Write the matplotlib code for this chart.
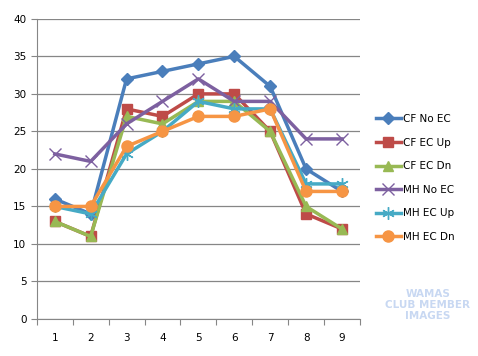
import numpy as np
import matplotlib
matplotlib.use("Agg")
import matplotlib.pyplot as plt

x = [1, 2, 3, 4, 5, 6, 7, 8, 9]
cf_no_ec = [16, 14, 32, 33, 34, 35, 31, 20, 17]
cf_ec_up = [13, 11, 28, 27, 30, 30, 25, 14, 12]
cf_ec_dn = [13, 11, 27, 26, 29, 29, 25, 15, 12]
mh_no_ec = [22, 21, 26, 29, 32, 29, 29, 24, 24]
mh_ec_up = [15, 14, 22, 25, 29, 28, 28, 18, 18]
mh_ec_dn = [15, 15, 23, 25, 27, 27, 28, 17, 17]

series = [
    ("CF No EC", cf_no_ec, "#4A7EBB", "D", 6),
    ("CF EC Up", cf_ec_up, "#BE4B48", "s", 7),
    ("CF EC Dn", cf_ec_dn, "#98B954", "^", 7),
    ("MH No EC", mh_no_ec, "#7D60A0", "x", 8),
    ("MH EC Up", mh_ec_up, "#46AAC5", (6, 2, 0), 9),
    ("MH EC Dn", mh_ec_dn, "#F69544", "o", 8),
]

fig = plt.figure(figsize=(4.78, 3.56), dpi=100)
ax = fig.add_axes([0.077, 0.104, 0.676, 0.843])

for name, vals, col, mk, ms in series:
    ax.plot(x, vals, color=col, lw=2.5, marker=mk, markersize=ms,
            markeredgecolor=col, markerfacecolor=col, markeredgewidth=1, label=name)

ax.set_xlim(0.5, 9.5)
ax.set_ylim(0, 40)
ax.set_yticks(range(0, 41, 5))
ax.set_xticks(np.arange(0.5, 9.6, 1))
ax.set_xticklabels([])
ax.set_xticks(x, minor=True)
ax.set_xticklabels([str(i) for i in x], minor=True, fontsize=7.5)
ax.tick_params(axis="x", which="minor", length=0, pad=10)
ax.tick_params(axis="x", which="major", length=4, color="#868686", direction="out")
ax.tick_params(axis="y", length=4, color="#868686", labelsize=7.5)
ax.grid(axis="y", color="#868686", lw=0.9)
ax.set_axisbelow(True)
for s in ["top", "right"]:
    ax.spines[s].set_visible(False)
for s in ["left", "bottom"]:
    ax.spines[s].set_color("#868686")

ax.legend(loc="center left", bbox_to_anchor=(1.02, 0.47), frameon=False,
          fontsize=7.5, labelspacing=1.3, handlelength=2.4, handletextpad=0.2)

fig.text(0.895, 0.143, "WAMAS\nCLUB MEMBER\nIMAGES", ha="center", va="center",
         color="#C8D8F2", fontsize=7.5, fontweight="bold", linespacing=1.1)

fig.savefig("out.png", dpi=100)
